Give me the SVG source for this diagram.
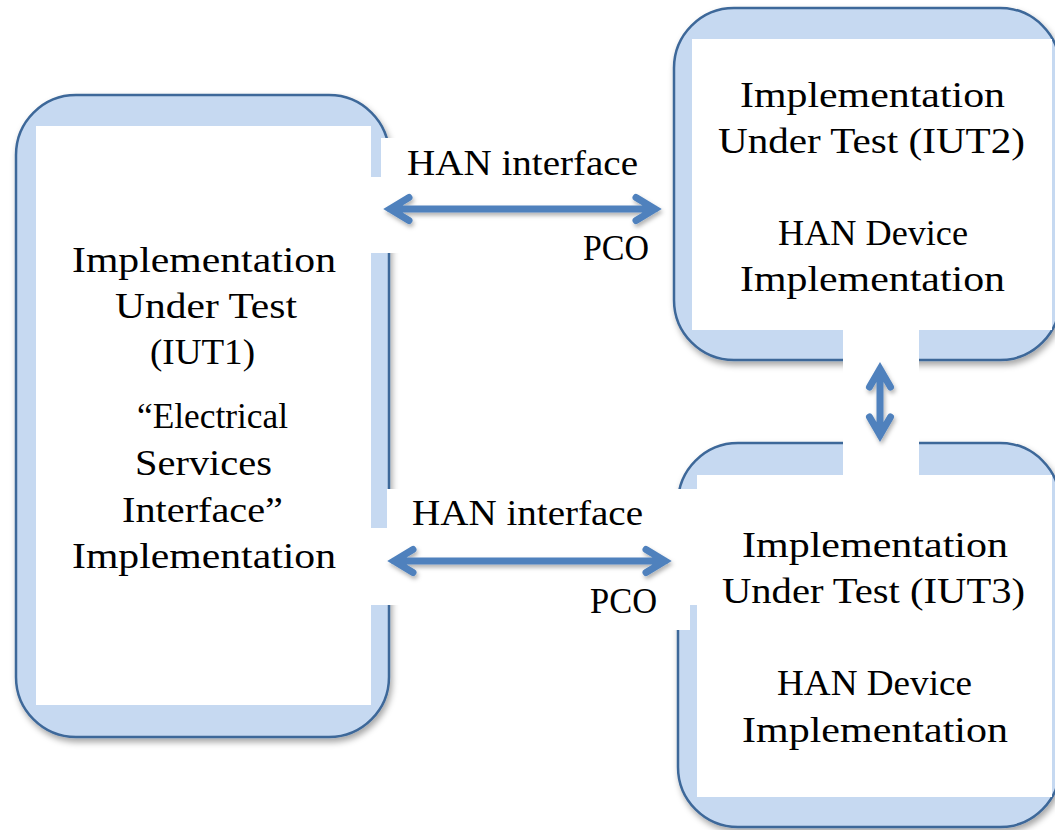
<svg xmlns="http://www.w3.org/2000/svg" width="1055" height="830" viewBox="0 0 1055 830">
<defs>
<filter id="sh" x="-10%" y="-10%" width="130%" height="130%"><feDropShadow dx="2" dy="4" stdDeviation="3" flood-color="#000" flood-opacity="0.35"/></filter>
<filter id="ash" x="-20%" y="-40%" width="140%" height="180%"><feDropShadow dx="1.5" dy="3" stdDeviation="2" flood-color="#000" flood-opacity="0.3"/></filter>
</defs>
<style>
.outer{fill:#c6d9f1;stroke:#3d6799;stroke-width:2.5}
.inner{fill:#fff}
.gap{fill:#fff}
.t{font-family:"Liberation Serif","Times New Roman",serif;font-size:36px;fill:#000}
.arr{fill:none;stroke:#4f81bd;stroke-width:7;stroke-linecap:round;stroke-linejoin:miter}
</style>
<g id="iut1">
<rect class="outer" x="16" y="95" width="373" height="642" rx="60" filter="url(#sh)"/>
<rect class="inner" x="36" y="126" width="335" height="579"/>
</g>
<g id="iut2">
<rect class="outer" x="674" y="8" width="386" height="352" rx="60" filter="url(#sh)"/>
<rect class="inner" x="692" y="39" width="360" height="291"/>
</g>
<g id="iut3">
<rect class="outer" x="678" y="443" width="382" height="384" rx="60" filter="url(#sh)"/>
<rect class="inner" x="697" y="475" width="355" height="322"/>
</g>
<g id="gaps">
<rect class="gap" x="381" y="138" width="281" height="40"/>
<rect class="gap" x="371" y="177" width="291" height="76"/>
<rect class="gap" x="387" y="489" width="310" height="40"/>
<rect class="gap" x="371" y="528" width="326" height="77"/>
<rect class="gap" x="560" y="604" width="130" height="26"/>
<rect class="gap" x="843" y="329" width="76" height="147"/>
</g>
<g id="connectors" filter="url(#ash)">
<path class="arr" d="M409,197.5 L390,209 L409,220.5 M390,209 L655,209 M636,197.5 L655,209 L636,220.5"/>
<path class="arr" d="M413,549.5 L394,561 L413,572.5 M394,561 L665,561 M646,549.5 L665,561 L646,572.5"/>
<path class="arr" d="M869.5,387 L880,369 L890.5,387 M880,369 L880,435 M869.5,417 L880,435 L890.5,417"/>
</g>
<g id="labels">
<text class="t" x="407" y="175" textLength="231" lengthAdjust="spacingAndGlyphs">HAN interface</text>
<text class="t" x="583" y="260" textLength="66" lengthAdjust="spacingAndGlyphs">PCO</text>
<text class="t" x="412" y="525" textLength="231" lengthAdjust="spacingAndGlyphs">HAN interface</text>
<text class="t" x="590" y="613" textLength="67" lengthAdjust="spacingAndGlyphs">PCO</text>
</g>
<g id="iut1-text">
<text class="t" x="72" y="272" textLength="264" lengthAdjust="spacingAndGlyphs">Implementation</text>
<text class="t" x="115" y="318" textLength="182" lengthAdjust="spacingAndGlyphs">Under Test</text>
<text class="t" x="150" y="364" textLength="105" lengthAdjust="spacingAndGlyphs">(IUT1)</text>
<text class="t" x="137" y="428" textLength="151" lengthAdjust="spacingAndGlyphs">“Electrical</text>
<text class="t" x="135" y="475" textLength="137" lengthAdjust="spacingAndGlyphs">Services</text>
<text class="t" x="122" y="522" textLength="161" lengthAdjust="spacingAndGlyphs">Interface”</text>
<text class="t" x="72" y="568" textLength="264" lengthAdjust="spacingAndGlyphs">Implementation</text>
</g>
<g id="iut2-text">
<text class="t" x="740" y="107" textLength="265" lengthAdjust="spacingAndGlyphs">Implementation</text>
<text class="t" x="718" y="153" textLength="307" lengthAdjust="spacingAndGlyphs">Under Test (IUT2)</text>
<text class="t" x="778" y="245" textLength="190" lengthAdjust="spacingAndGlyphs">HAN Device</text>
<text class="t" x="740" y="291" textLength="265" lengthAdjust="spacingAndGlyphs">Implementation</text>
</g>
<g id="iut3-text">
<text class="t" x="742" y="557" textLength="266" lengthAdjust="spacingAndGlyphs">Implementation</text>
<text class="t" x="722" y="603" textLength="303" lengthAdjust="spacingAndGlyphs">Under Test (IUT3)</text>
<text class="t" x="777" y="695" textLength="195" lengthAdjust="spacingAndGlyphs">HAN Device</text>
<text class="t" x="742" y="742" textLength="266" lengthAdjust="spacingAndGlyphs">Implementation</text>
</g>
</svg>
